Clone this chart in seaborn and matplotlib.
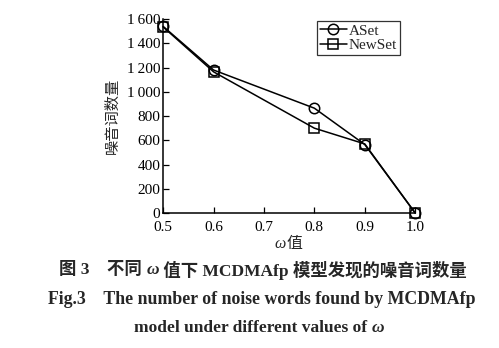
import matplotlib
matplotlib.use("Agg")
import matplotlib.pyplot as plt
import seaborn as sns
import pandas as pd

omega = [0.5, 0.6, 0.8, 0.9, 1.0]
aset = [1540, 1180, 865, 565, 0]
newset = [1535, 1165, 700, 570, 0]
yticks = [0, 200, 400, 600, 800, 1000, 1200, 1400, 1600]
ytick_labels = ["0", "200", "400", "600", "800", "1\u2009000", "1\u2009200", "1\u2009400", "1\u2009600"]
xticks = [0.5, 0.6, 0.7, 0.8, 0.9, 1.0]
xtick_labels = ["0.5", "0.6", "0.7", "0.8", "0.9", "1.0"]

sns.set_style("ticks")
FAM = ['Liberation Serif', 'Noto Sans CJK SC', 'DejaVu Sans']
plt.rcParams['font.family'] = FAM
plt.rcParams['xtick.direction'] = 'in'
plt.rcParams['ytick.direction'] = 'in'

fig = plt.figure(figsize=(4.99, 3.48), dpi=100)
ax = fig.add_axes([0.327, 0.388, 0.505, 0.557])

df_a = pd.DataFrame({"omega": omega, "count": aset})
df_n = pd.DataFrame({"omega": omega, "count": newset})
sns.lineplot(data=df_a, x="omega", y="count", ax=ax, color="black", lw=1.1,
             marker="o", markersize=7.5, markerfacecolor="none", markeredgecolor="black",
             markeredgewidth=1.1, label="ASet", clip_on=False)
sns.lineplot(data=df_n, x="omega", y="count", ax=ax, color="black", lw=1.1,
             marker="s", markersize=7.5, markerfacecolor="none", markeredgecolor="black",
             markeredgewidth=1.1, label="NewSet", clip_on=False)

ax.set_xlim(0.5, 1.0)
ax.set_ylim(0, 1600)
ax.set_xticks(xticks)
ax.set_xticklabels(xtick_labels)
ax.set_yticks(yticks)
ax.set_yticklabels(ytick_labels)
ax.tick_params(labelsize=11, length=4, width=0.9, colors="black", pad=2)
ax.tick_params(axis="x", pad=6)
for s in ["top", "right"]:
    ax.spines[s].set_visible(False)
for s in ["left", "bottom"]:
    ax.spines[s].set_linewidth(1.1)
    ax.spines[s].set_color("black")

ax.set_xlabel("")
ax.set_ylabel("噪音词数量", fontsize=11, labelpad=5)

leg = ax.legend(loc="upper right", bbox_to_anchor=(0.94, 0.99), fontsize=11, frameon=True,
                fancybox=False, edgecolor="black", handlelength=1.8, handletextpad=0.1,
                borderpad=0.2, labelspacing=0.05, borderaxespad=0)
leg.get_frame().set_linewidth(0.9)

renderer = fig.canvas.get_renderer()
W = fig.get_figwidth() * fig.dpi


def draw_line(xc, y, parts, size, weight):
    """Draw a sequence of (text, italic) pieces centred at xc (figure fraction)."""
    objs = []
    for s, it in parts:
        t = fig.text(0, y, s, ha="left", va="center", fontsize=size, fontweight=weight,
                     style="italic" if it else "normal", family=FAM)
        objs.append(t)
    widths = [o.get_window_extent(renderer).width / W for o in objs]
    x = xc - sum(widths) / 2
    for o, w in zip(objs, widths):
        o.set_x(x)
        x += w


draw_line(0.578, 0.298, [("ω", True), ("值", False)], 11.5, "normal")
draw_line(0.527, 0.224, [("图 3    不同 ", False), ("ω", True),
                         (" 值下 MCDMAfp 模型发现的噪音词数量", False)], 12.5, "bold")
draw_line(0.525, 0.138, [("Fig.3    The number of noise words found by MCDMAfp", False)], 12.8, "bold")
draw_line(0.52, 0.057, [("model under different values of ", False), ("ω", True)], 12.5, "bold")

fig.savefig("out.png", dpi=100)
